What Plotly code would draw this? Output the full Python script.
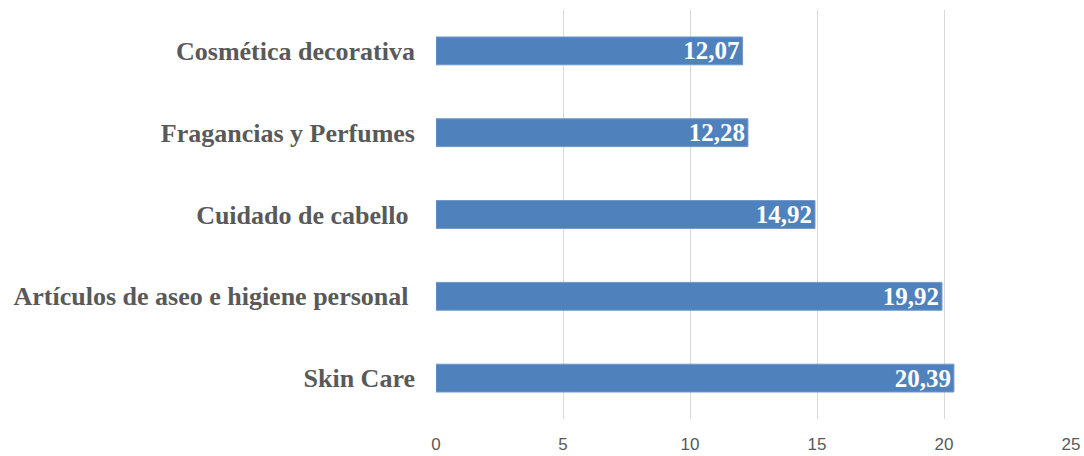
import plotly.graph_objects as go

categories = ["Cosmética decorativa", "Fragancias y Perfumes", "Cuidado de cabello\u00a0",
              "Artículos de aseo e higiene personal\u00a0", "Skin Care"]
values = [12.07, 12.28, 14.92, 19.92, 20.39]
x_ticks = [0, 5, 10, 15, 20, 25]

fig = go.Figure(go.Bar(
    y=categories, x=values, orientation="h",
    marker=dict(color="#4f81bd", line=dict(color="#6f97c9", width=1)),
    width=0.34,
    texttemplate="%{x:.2f}", textposition="inside", insidetextanchor="end",
    constraintext="none",
    textfont=dict(family="Liberation Serif", size=25, color="white", weight="bold"),
    cliponaxis=False,
))

fig.update_layout(
    width=1084, height=456,
    margin=dict(l=436, r=13, t=10, b=37, autoexpand=False),
    paper_bgcolor="white", plot_bgcolor="white",
    separators=",.",
    showlegend=False,
    xaxis=dict(range=[0, 25], tickvals=x_ticks, showgrid=True, gridcolor="#d9d9d9",
               gridwidth=1, zeroline=False, showline=False, automargin=False,
               tickfont=dict(family="Liberation Sans", size=17, color="#595959"),
               ticklabelstandoff=13),
    yaxis=dict(autorange="reversed", showgrid=False, showline=False, zeroline=False,
               automargin=False,
               tickfont=dict(family="Liberation Serif", size=26, color="#595959", weight="bold"),
               ticklabelstandoff=20),
)

fig.write_html("out.html")
